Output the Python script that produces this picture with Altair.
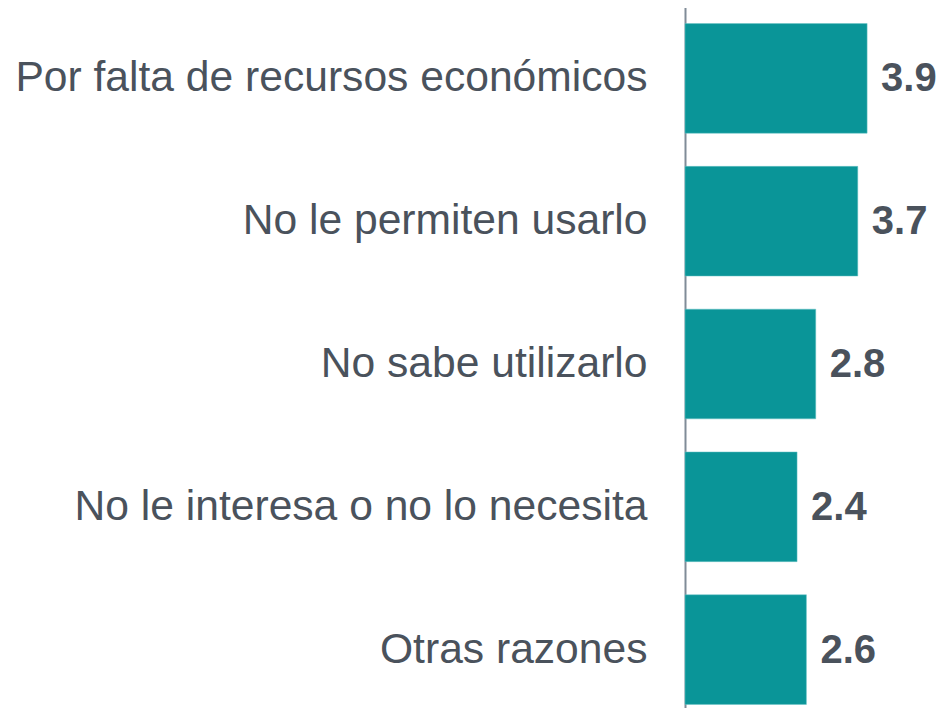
import altair as alt
import pandas as pd

categories = [
    "Por falta de recursos económicos",
    "No le permiten usarlo",
    "No sabe utilizarlo",
    "No le interesa o no lo necesita",
    "Otras razones",
]
values = [3.9, 3.7, 2.8, 2.4, 2.6]

df = pd.DataFrame({"cat": categories, "val": values, "lab": [f"{v:.1f}" for v in values]})

FONT = "Liberation Sans, Arial, sans-serif"
TEXT = "#4a525c"

y = alt.Y(
    "cat:N",
    sort=categories,
    title=None,
    scale=alt.Scale(paddingInner=0.232, paddingOuter=0.116, range=[-1, 713]),
    axis=alt.Axis(
        domain=True,
        domainColor="#808c98",
        domainWidth=2,
        ticks=False,
        grid=False,
        labelFont=FONT,
        labelFontSize=42.6,
        labelColor=TEXT,
        labelPadding=38,
        labelLimit=0,
    ),
)
x = alt.X("val:Q", title=None, scale=alt.Scale(domain=[0, 5.418], nice=False, zero=True), axis=None)

bars = alt.Chart(df).mark_bar(color="#0a9598", stroke="#6cc4c6", strokeWidth=0.5).encode(x=x, y=y)
labels = alt.Chart(df).mark_text(
    align="left", baseline="middle", dx=14, dy=1, font=FONT, fontSize=40, fontWeight="bold", color=TEXT
).encode(x=x, y=y, text="lab:N")

chart = (
    alt.layer(bars, labels)
    .properties(
        width=253,
        height=700,
        autosize=alt.AutoSizeParams(type="none"),
        padding={"left": 677, "top": 0, "right": 0, "bottom": 0},
    )
    .configure_view(stroke=None)
)

chart.save("out.html", embed_options={"renderer": "svg", "actions": False})
